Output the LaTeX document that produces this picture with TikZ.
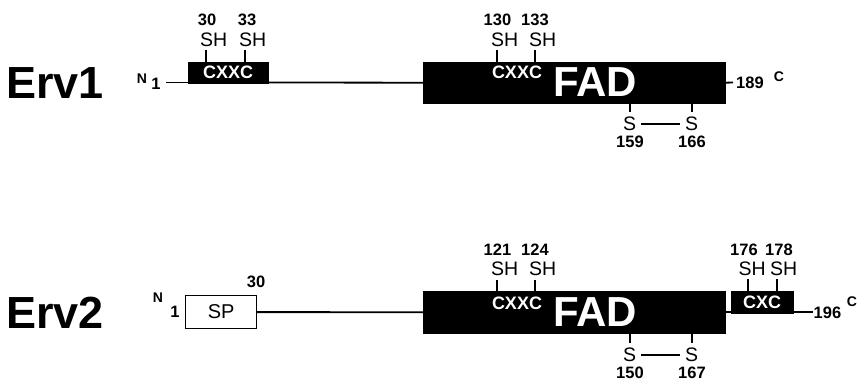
\documentclass[tikz,border=0pt]{standalone}
\usepackage{fontspec}
\setmainfont{Liberation Sans}
\begin{document}
\begin{tikzpicture}[x=1pt,y=-1pt,
  title/.style={inner sep=0pt, font=\bfseries\fontsize{45}{45}\selectfont},
  num/.style={inner sep=0pt, font=\bfseries\fontsize{16.5}{16.5}\selectfont},
  term/.style={inner sep=0pt, font=\bfseries\fontsize{14}{14}\selectfont},
  thiol/.style={inner sep=0pt, font=\fontsize{19.5}{19.5}\selectfont},
  dombox/.style={fill=black, draw=black, inner sep=0pt},
  motif/.style={inner sep=0pt, text=white, font=\bfseries\fontsize{18}{18}\selectfont},
  fadlbl/.style={inner sep=0pt, text=white, font=\bfseries\fontsize{42}{42}\selectfont},
  signal/.style={draw=black, fill=white, line width=1.2pt, inner sep=0pt,
                 font=\fontsize{20}{20}\selectfont},
  backbone/.style={line width=1.8pt},
  tick/.style={line width=1.8pt}]
\useasboundingbox (0,0) rectangle (861,383);

% ---------------- Erv1 ----------------
\node[title] (erv1) at (55,83) {Erv1};
\node[term] (erv1N) at (142,79) {N};
\node[num] (erv1first) at (156,84) {1};

\node[dombox, motif, minimum width=80pt, minimum height=21pt, anchor=south west]
  (cx1) at (188,83.5) {CXXC};
\node[dombox, minimum width=302pt, minimum height=41pt, anchor=north west]
  (fad1) at (423,62) {};
\node[motif] (fad1m) at (517,72) {CXXC};
\node[fadlbl] (fad1t) at (595,82.5) {FAD};

\coordinate (b1s) at (166,82.5);
\coordinate (e1) at (733,82.5);
\draw[backbone] (b1s) -- (cx1.south west |- b1s);
\draw[backbone] (cx1.south east |- b1s) -- (fad1.west);
\draw[backbone] (fad1.east) -- (e1);
\node[num, anchor=west] (erv1last) at (736,82.5) {189};
\node[term] (erv1C) at (779,77) {C};

% thiols of the N-terminal CXXC
\coordinate (t1a) at (206,50);
\coordinate (t1b) at (245,50);
\draw[tick] (t1a) -- (t1a |- cx1.north);
\draw[tick] (t1b) -- (t1b |- cx1.north);
\node[thiol, anchor=west] (sh1a) at (200,40) {SH};
\node[thiol, anchor=west] (sh1b) at (239,40) {SH};
\node[num] (r30) at (207,20) {30};
\node[num] (r33) at (247,20) {33};

% thiols of the FAD-domain CXXC
\coordinate (t1c) at (497,50);
\coordinate (t1d) at (535,50);
\draw[tick] (t1c) -- (t1c |- fad1.north);
\draw[tick] (t1d) -- (t1d |- fad1.north);
\node[thiol, anchor=west] (sh1c) at (491,40) {SH};
\node[thiol, anchor=west] (sh1d) at (529,40) {SH};
\node[num] (r130) at (497.5,20) {130};
\node[num] (r133) at (535,20) {133};

% structural disulfide
\coordinate (t1e) at (630,112);
\coordinate (t1f) at (692,112);
\draw[tick] (t1e |- fad1.south) -- (t1e);
\draw[tick] (t1f |- fad1.south) -- (t1f);
\node[thiol] (s1a) at (629.5,124) {S};
\node[thiol] (s1b) at (691.5,124) {S};
\draw[tick, shorten <=5pt, shorten >=5pt] (s1a.east) -- (s1b.west);
\node[num] (r159) at (630,142) {159};
\node[num] (r166) at (692,142) {166};

% ---------------- Erv2 ----------------
\node[title] (erv2) at (55,313) {Erv2};
\node[term] (erv2N) at (158,298) {N};
\node[num] (erv2first) at (175,312) {1};

\node[signal, minimum width=71pt, minimum height=33pt, anchor=north west]
  (sp) at (185,295) {SP};
\node[num] (r30b) at (256,282) {30};

\node[dombox, minimum width=302pt, minimum height=42pt, anchor=north west]
  (fad2) at (423,291) {};
\node[motif] (fad2m) at (517,303) {CXXC};
\node[fadlbl] (fad2t) at (595,312.5) {FAD};

\node[dombox, motif, minimum width=62pt, minimum height=22pt, anchor=north west]
  (cxc) at (731,291) {CXC};

\coordinate (e2) at (813,312);
\draw[backbone] (sp.east) -- (fad2.west);
\draw[backbone] (fad2.east) -- (fad2.east -| cxc.west);
\draw[backbone] (cxc.south east |- e2) -- (e2);
\node[num, anchor=west] (erv2last) at (813.5,313) {196};
\node[term] (erv2C) at (852,302) {C};

% thiols of the FAD-domain CXXC
\coordinate (t2c) at (497,280);
\coordinate (t2d) at (535,280);
\draw[tick] (t2c) -- (t2c |- fad2.north);
\draw[tick] (t2d) -- (t2d |- fad2.north);
\node[thiol, anchor=west] (sh2c) at (491,269) {SH};
\node[thiol, anchor=west] (sh2d) at (529,269) {SH};
\node[num] (r121) at (497.5,250) {121};
\node[num] (r124) at (535,250) {124};

% thiols of the C-terminal CXC
\coordinate (t2g) at (748,279);
\coordinate (t2h) at (777,279);
\draw[tick] (t2g) -- (t2g |- cxc.north);
\draw[tick] (t2h) -- (t2h |- cxc.north);
\node[thiol, anchor=west] (sh2g) at (738.5,269) {SH};
\node[thiol, anchor=west] (sh2h) at (770,269) {SH};
\node[num] (r176) at (744,250) {176};
\node[num] (r178) at (779,250) {178};

% structural disulfide
\coordinate (t2e) at (630,343);
\coordinate (t2f) at (692,343);
\draw[tick] (t2e |- fad2.south) -- (t2e);
\draw[tick] (t2f |- fad2.south) -- (t2f);
\node[thiol] (s2a) at (629.5,355) {S};
\node[thiol] (s2b) at (691.5,355) {S};
\draw[tick, shorten <=5pt, shorten >=5pt] (s2a.east) -- (s2b.west);
\node[num] (r150) at (630,373) {150};
\node[num] (r167) at (692,373) {167};
\end{tikzpicture}
\end{document}
